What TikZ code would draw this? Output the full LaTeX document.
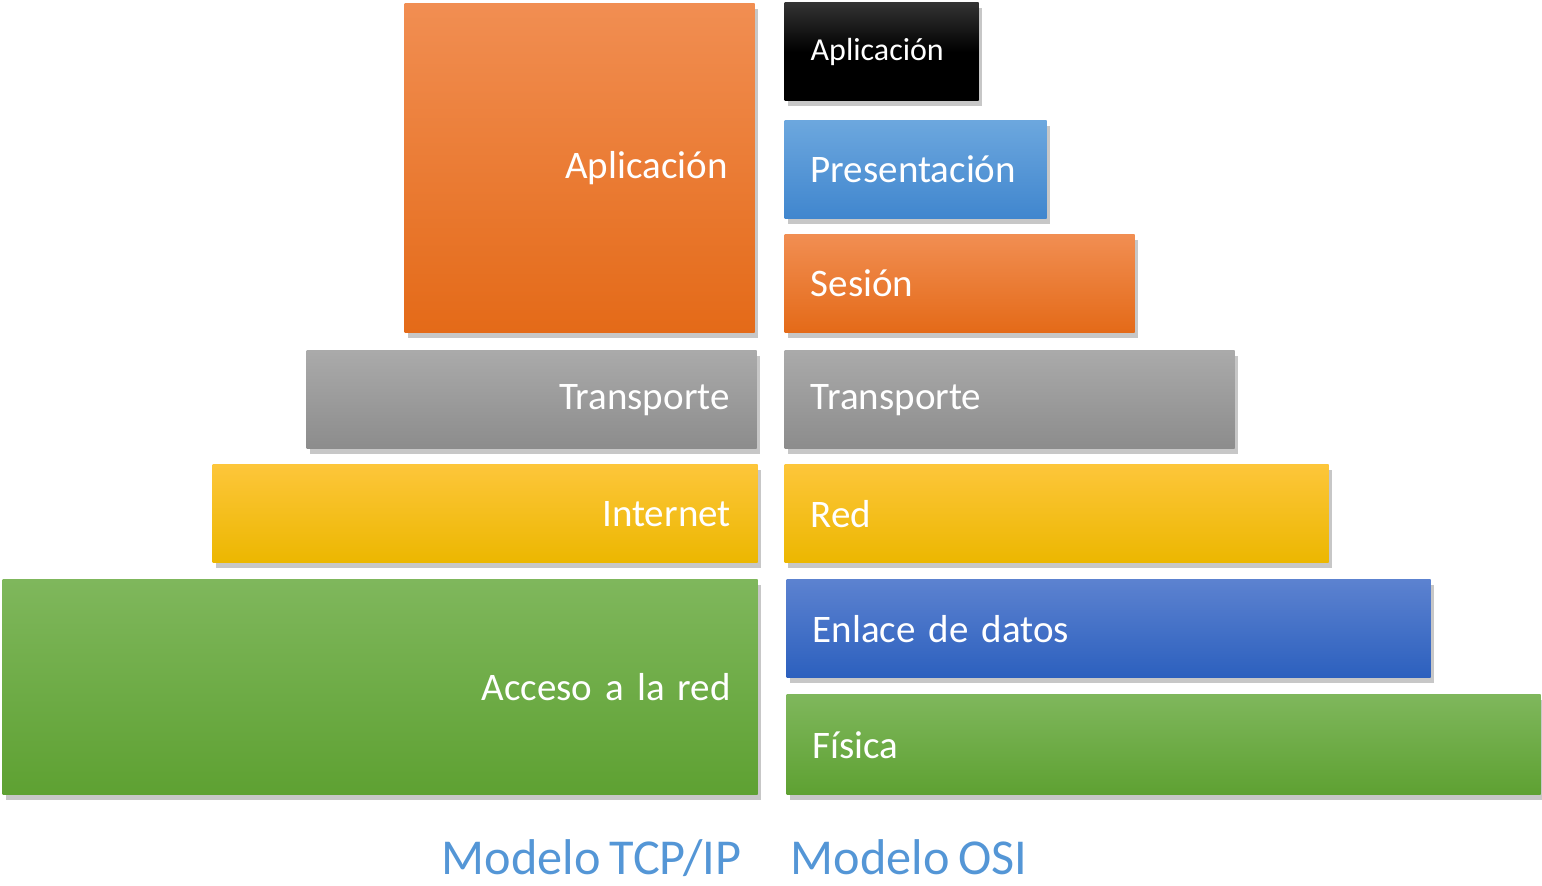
\documentclass[tikz,border=0pt]{standalone}
\usepackage{fontspec}
\setmainfont{Carlito}[WordSpace=0.8]
\usetikzlibrary{shadows}

\definecolor{naranjaA}{RGB}{241,142,82}
\definecolor{naranjaB}{RGB}{228,106,24}
\definecolor{grisA}{RGB}{170,170,170}
\definecolor{grisB}{RGB}{140,140,140}
\definecolor{amarilloA}{RGB}{253,198,58}
\definecolor{amarilloB}{RGB}{236,183,0}
\definecolor{verdeA}{RGB}{127,183,92}
\definecolor{verdeB}{RGB}{94,161,50}
\definecolor{celesteA}{RGB}{108,167,222}
\definecolor{celesteB}{RGB}{64,134,206}
\definecolor{azulA}{RGB}{92,130,208}
\definecolor{azulB}{RGB}{44,96,190}
\definecolor{rotulo}{RGB}{84,150,214}

\tikzset{
	capa/.style={rectangle, draw=none, anchor=north west, text=white,
		font=\fontsize{11.1}{13}\selectfont, minimum height=0.98cm,
		drop shadow={shadow xshift=0.03cm, shadow yshift=-0.05cm, fill=black, opacity=0.22}},
	tcpcapa/.style={capa, inner xsep=0.27cm, align=right},
	osicapa/.style={capa, inner xsep=0.26cm, align=left},
	naranja/.style={top color=naranjaA, bottom color=naranjaB},
	gris/.style={top color=grisA, bottom color=grisB},
	amarillo/.style={top color=amarilloA, bottom color=amarilloB},
	verde/.style={top color=verdeA, bottom color=verdeB},
	celeste/.style={top color=celesteA, bottom color=celesteB},
	azul/.style={top color=azulA, bottom color=azulB},
	negro/.style={top color=black!80, bottom color=black, middle color=black},
	modelo/.style={text=rotulo, font=\fontsize{14.3}{17}\selectfont, inner sep=0pt}
}

\begin{document}
\begin{tikzpicture}
			\useasboundingbox (0,0) rectangle (15.42,-8.85);
			%TCP/IP
			\node[tcpcapa, naranja, text width=2.96cm, minimum height=3.29cm] (aplT) at (4.04,-0.03) {Aplicación};
			\node[tcpcapa, gris, text width=3.96cm] (transT) at (3.06,-3.50) {Transporte};
			\node[tcpcapa, amarillo, text width=4.91cm] (inetT) at (2.12,-4.64) {Internet};
			\node[tcpcapa, verde, text width=7.01cm, minimum height=2.15cm] (accT) at (0.02,-5.79) {Acceso a la red};
			%OSI
			\node[osicapa, negro, text width=1.42cm, font=\fontsize{9.1}{11}\selectfont] (aplO) at (7.84,-0.02) {Aplicación};
			\node[osicapa, celeste, text width=2.10cm] (presO) at (7.84,-1.20) {Presentación};
			\node[osicapa, naranja, text width=2.98cm] (sesO) at (7.84,-2.34) {Sesión};
			\node[osicapa, gris, text width=3.98cm] (transO) at (7.84,-3.50) {Transporte};
			\node[osicapa, amarillo, text width=4.92cm] (redO) at (7.84,-4.64) {Red};
			\node[osicapa, azul, text width=5.92cm] (enlO) at (7.86,-5.79) {Enlace de datos};
			\node[osicapa, verde, text width=7.02cm, minimum height=1.00cm] (fisO) at (7.86,-6.94) {Física};
			%Rotulos
			\node[modelo, anchor=base east] (tcpip) at (7.42,-8.74) {Modelo TCP/IP};
			\node[modelo, anchor=base west] (osi) at (7.90,-8.74) {Modelo OSI};
\end{tikzpicture}
\end{document}
